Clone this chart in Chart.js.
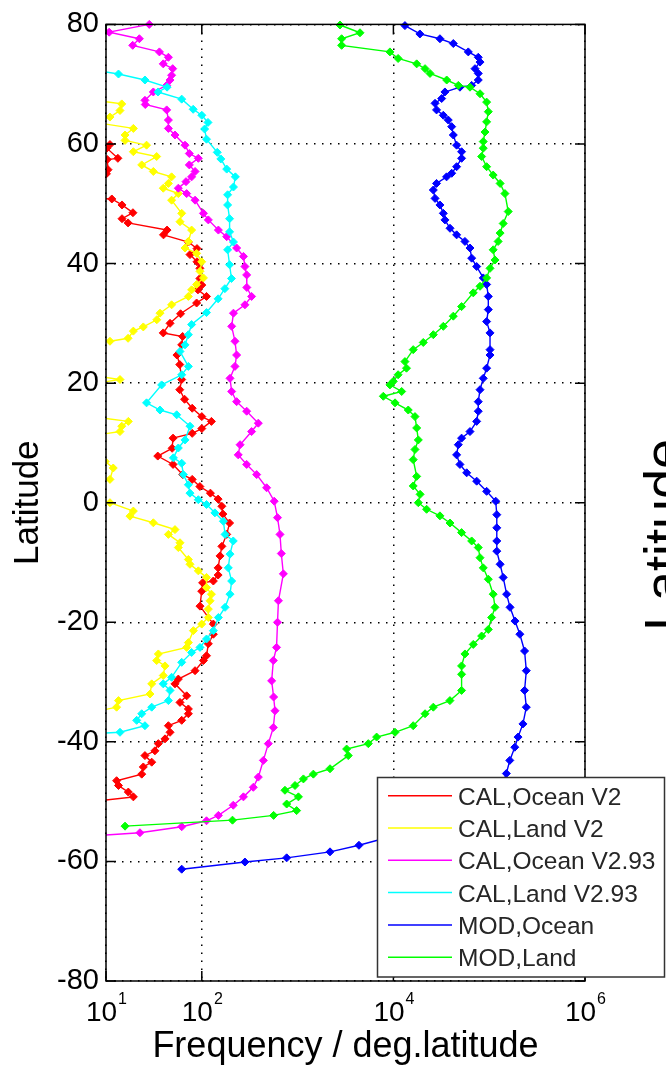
<!DOCTYPE html>
<html>
<head>
<meta charset="utf-8">
<script src="https://cdn.jsdelivr.net/npm/chart.js@4/dist/chart.umd.min.js"></script>
<style>
  html, body { margin: 0; padding: 0; background: #fff; overflow: hidden; }
  canvas { display: block; }
</style>
</head>
<body>
<canvas id="chart" width="666" height="1068"></canvas>
<script>
// Zonal frequency profiles: [latitude (deg), frequency per degree of latitude]
const calOceanV2 = [
  [60.3,7.9],[59.9,11.0],[59.3,10.2],[57.6,13.3],[57.4,10.3],[55.7,10.5],[55.0,10.1],[54.4,7.9],
  [50.9,7.9],[50.8,11.5],[49.8,14.7],[48.5,19.1],[47.5,14.7],[46.8,17.0],[45.6,43.4],[44.8,39.8],
  [43.6,72.4],[42.5,89.1],[41.5,75.3],[40.3,89.1],[39.2,95.5],[37.5,95.5],[36.4,100],[35.6,91.2],
  [34.5,112],[33.4,88.3],[31.6,60],[30.0,46.6],[28.4,39.6],[27.8,63.1],[26.4,61.7],[24.7,55.0],
  [23.1,58.9],[20.6,61.7],[18.9,58.9],[17.3,66.1],[15.8,79.4],[14.4,100],[13.6,126],[12.4,100],
  [11.6,79.4],[10.8,50.1],[9.1,49.0],[7.8,34.7],[6.4,50.1],[4.7,63.1],[3.9,79.4],[2.7,95.5],
  [1.6,123],[0.6,148],[-0.6,162],[-1.9,166],[-3.4,195],[-5.3,182],[-7.3,162],[-8.9,155],
  [-10.9,148],[-12.1,148],[-13.1,132],[-13.4,102],[-14.8,99.8],[-17.3,95.7],[-20.3,132],[-22.0,132],
  [-23.6,117],[-25.6,112],[-26.4,104],[-28.1,85],[-29.5,56.9],[-30.3,52.5],[-32.3,69.5],[-33.4,59.2],
  [-34.5,72.4],[-35.3,72.4],[-36.4,61.7],[-37.3,44.8],[-38.4,46.6],[-39.5,41.3],[-40.3,35.2],[-41.5,32.4],
  [-42.3,25.5],[-43.4,30.0],[-44.2,24.5],[-45.4,23.6],[-46.5,12.9],[-47.3,13.5],[-48.4,17.1],[-49.2,19.3],
  [-49.9,7.9]
];
const calLandV2 = [
  [67.3,7.9],[66.7,14.6],[65.6,14.0],[64.5,11.0],[64.0,7.0],[63.7,7.0],[62.6,19.3],[61.5,15.8],
  [60.6,15.8],[59.8,26.5],[58.7,19.3],[57.9,33.8],[56.5,23.6],[55.4,31.2],[54.5,48.4],[53.4,44.8],
  [52.6,39.6],[51.7,56.9],[50.6,48.4],[48.4,61.7],[47.0,59.2],[45.6,78.3],[43.7,72.4],[42.6,66.8],
  [41.7,88.3],[40.3,99.8],[38.7,95.7],[37.6,104],[36.5,88.3],[35.6,78.3],[34.5,72.4],[33.1,48.4],
  [31.7,36.6],[30.6,33.9],[29.4,24.5],[28.7,19.3],[27.5,17.0],[27.0,11.0],[26.8,7.9],
  [21.3,7.0],[20.6,14.0],[20.0,7.9],
  [14.3,7.9],[13.6,17.1],[12.8,14.6],[11.9,14.0],[11.3,7.9],
  [7.1,8.5],[6.9,9.8],[5.8,11.9],[3.9,11.0],[3.3,7.9],
  [0.3,7.9],[0.0,11.0],[-1.4,19.3],[-2.25,17.8],[-3.36,31.2],[-4.5,52.5],[-5.3,44.8],[-6.7,59.2],
  [-7.5,56.9],[-9.5,72.4],[-10.3,75.3],[-11.4,92.0],[-12.5,112],[-14.2,112],[-15.3,126],[-16.4,122],
  [-17.8,117],[-19.2,117],[-20.3,99.8],[-21.4,81.7],[-23.4,72.4],[-24.2,69.5],[-25.3,35.2],[-26.4,33.8],
  [-27.3,41.3],[-28.9,39.6],[-30.3,30.0],[-32.0,28.8],[-33.1,13.5],[-34.2,12.9],[-34.9,7.9]
];
const calOceanV293 = [
  [80.0,28.3],[78.7,10.8],[77.6,22.3],[76.5,19.0],[75.4,36.1],[74.5,44.8],[73.4,39.6],[72.6,49.7],
  [71.5,48.4],[70.7,46.6],[69.8,43.0],[68.7,31.2],[67.3,25.5],[66.6,25.7],[65.7,43.0],[64.0,44.8],
  [62.6,44.8],[61.5,52.5],[59.8,66.8],[58.4,74.1],[57.6,92.0],[56.5,74.1],[55.4,85.1],[54.5,78.3],
  [53.7,68.4],[52.6,56.9],[51.7,69.5],[50.6,85.1],[48.4,104],[47.3,117],[45.6,149],[44.5,182],
  [42.6,231],[41.2,272],[39.5,282],[38.1,294],[36.0,295],[34.5,331],[33.1,282],[31.7,214],
  [29.5,205],[27.0,222],[24.7,231],[22.8,222],[20.8,197],[18.6,205],[16.9,231],[15.3,294],
  [13.3,389],[11.9,331],[9.7,251],[8.0,240],[6.4,294],[4.7,374],[2.5,475],[0.25,570],
  [-2.5,617],[-5.3,655],[-8.5,676],[-11.9,710],[-16.4,631],[-20.0,617],[-24.2,603],[-26.4,558],
  [-29.8,536],[-32.5,562],[-34.8,581],[-37.6,558],[-40.3,495],[-43.1,439],[-45.9,389],[-47.6,345],
  [-49.2,272],[-50.6,213],[-52.3,149],[-53.2,112],[-54.2,61.7],[-55.2,22.6],[-55.7,7.9]
];
const calLandV293 = [
  [72.3,7.9],[71.7,13.5],[70.7,25.5],[69.5,43.4],[68.7,34.9],[67.5,61.7],[65.8,81.3],[64.8,100],
  [63.6,116],[62.5,107],[60.8,112],[58.6,145],[57.5,158],[55.8,182],[54.5,224],[52.8,214],
  [51.5,186],[49.8,186],[47.5,195],[45.3,195],[43.6,214],[42.3,186],[39.8,195],[37.5,204],
  [35.8,174],[34.1,148],[31.8,112],[29.8,78.3],[28.1,72.4],[26.4,66.8],[25.3,59.2],[22.8,72.4],
  [21.4,61.7],[19.7,38.1],[16.7,26.5],[15.5,36.6],[14.7,54.7],[12.8,75.3],[10.5,66.8],[9.15,56.9],
  [7.5,50.5],[6.6,61.7],[4.7,64.1],[3.0,72.4],[1.6,75.3],[0.5,92.0],[-0.3,112],[-1.7,137],
  [-3.1,168],[-5.3,175],[-6.4,213],[-8.6,197],[-10.9,189],[-13.1,205],[-15.3,197],[-17.5,175],
  [-19.2,149],[-21.4,132],[-22.8,112],[-24.2,95.7],[-25.05,78.3],[-26.7,61.7],[-29.2,48.4],[-30.3,39.6],
  [-31.4,46.6],[-33.1,44.8],[-34.2,30.0],[-35.3,23.6],[-36.4,20.9],[-37.3,25.5],[-38.4,14.0],[-38.6,7.9]
];
const modOcean = [
  [79.8,1.32e4],[78.4,1.89e4],[77.6,3.06e4],[76.8,4.22e4],[75.4,6.05e4],[74.5,7.69e4],[73.7,8.02e4],[72.6,7.11e4],
  [71.8,7.69e4],[70.7,7.69e4],[69.8,6.56e4],[69.5,4.95e4],[68.7,3.45e4],[67.6,3.19e4],[66.8,2.72e4],[65.7,2.82e4],
  [64.8,3.32e4],[64.0,3.74e4],[62.9,4.06e4],[61.5,4.22e4],[59.8,4.57e4],[58.7,5.15e4],[57.6,5.15e4],[56.2,4.57e4],
  [55.1,4.06e4],[54.5,3.59e4],[53.4,2.82e4],[52.3,2.61e4],[50.9,2.72e4],[49.8,3.06e4],[48.4,3.32e4],[47.3,3.45e4],
  [45.9,3.90e4],[44.8,4.57e4],[43.7,5.58e4],[42.6,6.30e4],[40.9,6.56e4],[39.5,7.40e4],[37.6,8.67e4],[36.5,9.40e4],
  [34.5,9.79e4],[32.3,9.79e4],[30.3,9.40e4],[28.4,1.02e5],[25.6,1.02e5],[24.7,1.02e5],[22.5,9.40e4],[20.8,8.67e4],
  [18.9,8.02e4],[16.9,7.69e4],[15.3,7.69e4],[13.6,7.40e4],[11.9,6.30e4],[10.8,5.15e4],[9.7,4.76e4],[8.0,4.57e4],
  [6.4,4.95e4],[5.0,5.82e4],[3.6,7.40e4],[1.9,9.40e4],[0.25,1.17e5],[-2.0,1.20e5],[-4.2,1.20e5],[-6.4,1.20e5],
  [-8.1,1.20e5],[-10.3,1.30e5],[-12.5,1.40e5],[-15.3,1.52e5],[-17.5,1.65e5],[-19.8,1.86e5],[-22.0,2.09e5],[-24.8,2.34e5],
  [-28.1,2.44e5],[-31.4,2.34e5],[-34.2,2.44e5],[-37.0,2.25e5],[-39.2,2.00e5],[-40.9,1.85e5],[-43.1,1.64e5],[-45.3,1.51e5],
  [-47.5,1.35e5],[-50.0,1.10e5],[-52.5,7.0e4],[-54.5,3.0e4],[-56.0,8.7e3],[-57.3,4.37e3],[-58.4,2.18e3],[-59.4,769],
  [-60.1,282],[-61.3,61.7]
];
const modLand = [
  [79.9,2.77e3],[78.6,4.48e3],[77.6,2.88e3],[76.5,2.88e3],[75.4,9.20e3],[74.3,1.12e4],[73.4,1.75e4],[72.6,2.14e4],
  [71.8,2.41e4],[70.7,3.60e4],[69.8,4.76e4],[69.5,6.30e4],[68.4,8.02e4],[67.0,9.40e4],[65.4,9.79e4],[63.7,9.40e4],
  [62.0,9.04e4],[60.4,8.67e4],[59.3,8.67e4],[57.9,8.34e4],[56.2,9.40e4],[54.8,1.10e5],[53.4,1.30e5],[51.7,1.46e5],
  [48.7,1.58e5],[46.7,1.40e5],[45.1,1.30e5],[43.7,1.24e5],[42.3,1.10e5],[40.6,1.15e5],[39.2,1.02e5],[37.6,9.40e4],
  [36.2,8.02e4],[35.1,6.82e4],[32.8,5.15e4],[31.2,4.22e4],[29.5,3.32e4],[28.1,2.61e4],[26.8,2.05e4],[25.6,1.61e4],
  [23.6,1.32e4],[22.5,1.37e4],[21.4,1.12e4],[20.3,9.98e3],[19.7,9.20e3],[18.6,1.22e4],[17.8,7.85e3],[16.7,1.04e4],
  [15.5,1.43e4],[14.4,1.68e4],[12.5,1.75e4],[10.5,1.82e4],[8.9,1.68e4],[7.2,1.61e4],[4.4,1.75e4],[2.8,1.61e4],
  [1.4,1.90e4],[0.0,1.82e4],[-1.1,2.22e4],[-2.2,3.06e4],[-3.4,3.90e4],[-5.0,5.15e4],[-6.4,6.56e4],[-7.5,7.69e4],
  [-9.2,8.02e4],[-10.9,8.67e4],[-12.8,9.79e4],[-15.3,1.10e5],[-17.5,1.15e5],[-19.2,1.06e5],[-21.2,9.79e4],[-22.3,8.34e4],
  [-23.7,6.82e4],[-25.3,5.58e4],[-27.3,5.15e4],[-28.7,5.15e4],[-31.4,5.15e4],[-33.1,3.89e4],[-34.2,2.61e4],[-35.3,2.14e4],
  [-37.3,1.61e4],[-38.4,1.04e4],[-39.2,6.68e3],[-40.3,5.47e3],[-41.2,3.25e3],[-42.3,3.38e3],[-44.5,2.18e3],[-45.4,1.46e3],
  [-46.2,1.15e3],[-47.3,940],[-48.1,738],[-49.2,1.02e3],[-50.4,769],[-51.5,977],[-52.3,562],[-53.1,209],
  [-54.1,15.8]
];

const seriesLabels = ['CAL,Ocean V2', 'CAL,Land V2', 'CAL,Ocean V2.93', 'CAL,Land V2.93', 'MOD,Ocean', 'MOD,Land'];
const seriesColors = ['#ff0000', '#ffff00', '#ff00ff', '#00ffff', '#0000ff', '#00ff00'];
const seriesData = [calOceanV2, calLandV2, calOceanV293, calLandV293, modOcean, modLand];

const xTickValues = [10, 100, 1e4, 1e6];
const yTickStep = 20;
const latRange = [-80, 80];
const freqRange = [10, 1e6];

const FONT = '"Liberation Sans", Arial, Helvetica, sans-serif';
Chart.defaults.font.family = FONT;
Chart.defaults.color = '#000';

// Closed box with inward tick marks
const framePlugin = {
  id: 'frame',
  afterDatasetsDraw(chart) {
    const { ctx, chartArea: a, scales: { x, y } } = chart;
    ctx.save();
    ctx.strokeStyle = '#000';
    ctx.lineWidth = 1.5;
    ctx.strokeRect(a.left, a.top, a.right - a.left, a.bottom - a.top);
    ctx.beginPath();
    y.ticks.forEach(t => {
      const py = y.getPixelForValue(t.value);
      ctx.moveTo(a.left, py); ctx.lineTo(a.left + 10, py);
      ctx.moveTo(a.right, py); ctx.lineTo(a.right - 10, py);
    });
    x.ticks.forEach(t => {
      const px = x.getPixelForValue(t.value);
      ctx.moveTo(px, a.top); ctx.lineTo(px, a.top + 10);
      ctx.moveTo(px, a.bottom); ctx.lineTo(px, a.bottom - 10);
    });
    ctx.stroke();
    ctx.restore();
  }
};

// Power-of-ten tick labels, legend box, neighbouring panel's axis title
const overlayPlugin = {
  id: 'overlay',
  afterDraw(chart) {
    const { ctx, scales: { x } } = chart;
    ctx.save();
    ctx.fillStyle = '#000';
    ctx.textBaseline = 'alphabetic';
    x.ticks.forEach(t => {
      const px = x.getPixelForValue(t.value);
      const exp = String(Math.round(Math.log10(t.value)));
      ctx.font = '28px ' + FONT;
      const wBase = ctx.measureText('10').width;
      ctx.font = '16px ' + FONT;
      const wExp = ctx.measureText(exp).width;
      const start = px - (wBase + wExp) / 2;
      ctx.font = '28px ' + FONT;
      ctx.textAlign = 'left';
      ctx.fillText('10', start, 1021);
      ctx.font = '16px ' + FONT;
      ctx.fillText(exp, start + wBase + 1, 1004);
    });

    // legend
    const bx = 377.5, by = 777.5, bw = 287, bh = 199.5;
    ctx.fillStyle = '#fff';
    ctx.fillRect(bx, by, bw, bh);
    ctx.strokeStyle = '#333';
    ctx.lineWidth = 1.5;
    ctx.strokeRect(bx, by, bw, bh);
    ctx.font = '24.5px ' + FONT;
    chart.data.datasets.forEach((ds, i) => {
      const ly = 795.7 + i * 32.3;
      ctx.strokeStyle = ds.borderColor;
      ctx.lineWidth = 1.5;
      ctx.beginPath();
      ctx.moveTo(388, ly); ctx.lineTo(452, ly);
      ctx.stroke();
      ctx.fillStyle = '#262626';
      ctx.fillText(ds.label, 458, ly + 9);
    });

    // axis title of the adjacent panel, cut by the page edge
    ctx.translate(682, 535);
    ctx.rotate(-Math.PI / 2);
    ctx.textAlign = 'center';
    ctx.fillStyle = '#000';
    ctx.font = '54px ' + FONT;
    ctx.fillText('Latitude', 0, 0);
    ctx.restore();
  }
};

new Chart(document.getElementById('chart'), {
  type: 'scatter',
  data: {
    datasets: seriesData.map((pairs, i) => ({
      label: seriesLabels[i],
      data: pairs.map(([lat, f]) => ({ x: f, y: lat })),
      showLine: true,
      borderColor: seriesColors[i],
      backgroundColor: seriesColors[i],
      borderWidth: 1.4,
      pointStyle: 'rectRot',
      pointRadius: 4,
      pointBorderWidth: 1,
      pointBackgroundColor: seriesColors[i],
      pointBorderColor: seriesColors[i],
      order: -i,
      clip: { left: 0, top: 5, right: 0, bottom: 0 }
    }))
  },
  options: {
    responsive: false,
    animation: false,
    devicePixelRatio: 1,
    layout: { padding: { left: 0, right: 81, top: 22, bottom: 0 } },
    plugins: { legend: { display: false }, tooltip: { enabled: false } },
    scales: {
      x: {
        type: 'logarithmic',
        position: 'bottom',
        min: freqRange[0],
        max: freqRange[1],
        afterBuildTicks: s => { s.ticks = xTickValues.map(v => ({ value: v })); },
        afterFit: s => { s.height = 87; },
        ticks: { display: false },
        grid: { color: '#000', lineWidth: 1.5, drawTicks: false },
        border: { display: false, dash: [1.5, 6.5] },
        title: {
          display: true,
          text: 'Frequency / deg.latitude',
          color: '#000',
          font: { size: 36, lineHeight: 1 },
          padding: { top: 0, bottom: 3 }
        }
      },
      y: {
        type: 'linear',
        min: latRange[0],
        max: latRange[1],
        afterFit: s => { s.width = 106; },
        ticks: { stepSize: yTickStep, padding: 7, color: '#000', font: { size: 29 } },
        grid: { color: '#000', lineWidth: 1.5, drawTicks: false },
        border: { display: false, dash: [1.5, 6.5] },
        title: {
          display: true,
          text: 'Latitude',
          color: '#000',
          font: { size: 35, lineHeight: 1 },
          padding: { top: 11, bottom: 0 }
        }
      }
    }
  },
  plugins: [framePlugin, overlayPlugin]
});
</script>
</body>
</html>
